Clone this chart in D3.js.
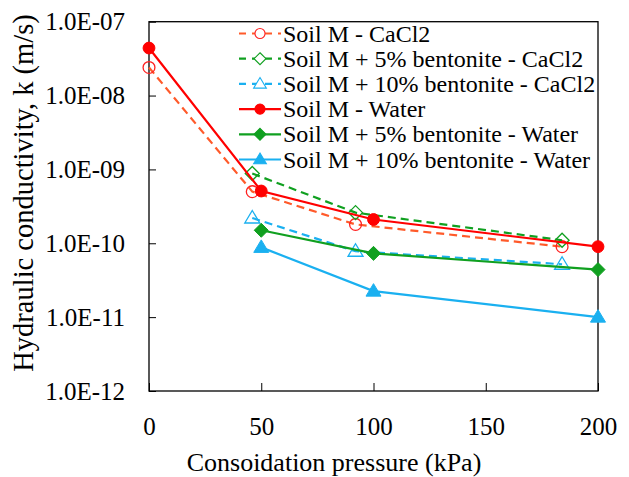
<!DOCTYPE html>
<html>
<head>
<meta charset="utf-8">
<script src="https://cdn.jsdelivr.net/npm/d3@7"></script>
<style>
  body { margin: 0; background: #fff; }
</style>
</head>
<body>
<div id="showBox"></div>
<script>
// data
const pressureCaCl2Red = [0, 46, 92, 184];
const pressureCaCl2 = [46, 92, 184];
const pressureWaterRed = [0, 50, 100, 200];
const pressureWater = [50, 100, 200];

const kSoilCaCl2 = [2.4e-8, 5.0e-10, 1.8e-10, 9.0e-11];
const kBent5CaCl2 = [8.8e-10, 2.6e-10, 1.1e-10];
const kBent10CaCl2 = [2.2e-10, 7.8e-11, 5.2e-11];
const kSoilWater = [4.4e-8, 5.1e-10, 2.1e-10, 9.0e-11];
const kBent5Water = [1.5e-10, 7.3e-11, 4.4e-11];
const kBent10Water = [8.8e-11, 2.25e-11, 1.0e-11];

const xTicks = [0, 50, 100, 150, 200];
const yTicks = [1e-12, 1e-11, 1e-10, 1e-9, 1e-8, 1e-7];

const seriesNames = [
    "Soil M - CaCl2",
    "Soil M + 5% bentonite - CaCl2",
    "Soil M + 10% bentonite - CaCl2",
    "Soil M - Water",
    "Soil M + 5% bentonite - Water",
    "Soil M + 10% bentonite - Water"
];

const series = [
    {name: seriesNames[0], x: pressureCaCl2Red, y: kSoilCaCl2, line: "#ff5a2a", mark: "#ff2020", dash: true, shape: "circle"},
    {name: seriesNames[1], x: pressureCaCl2, y: kBent5CaCl2, line: "#10a020", mark: "#10a020", dash: true, shape: "diamond"},
    {name: seriesNames[2], x: pressureCaCl2, y: kBent10CaCl2, line: "#1ab0f0", mark: "#1ab0f0", dash: true, shape: "triangle"},
    {name: seriesNames[3], x: pressureWaterRed, y: kSoilWater, line: "#ff0000", mark: "#ff0000", dash: false, shape: "circle"},
    {name: seriesNames[4], x: pressureWater, y: kBent5Water, line: "#10a020", mark: "#10a020", dash: false, shape: "diamond"},
    {name: seriesNames[5], x: pressureWater, y: kBent10Water, line: "#1ab0f0", mark: "#1ab0f0", dash: false, shape: "triangle"}
];

const W = 629, H = 477;
const mLeft = 149, mRight = 598, mTop = 21.7, mBottom = 391;
const FONT = "Liberation Serif";

const x = d3.scaleLinear().domain([0, 200]).range([mLeft, mRight]);
const y = d3.scaleLog().domain([1e-12, 1e-7]).range([mBottom, mTop]);

const svg = d3.select("#showBox").append("svg")
    .attr("width", W).attr("height", H)
    .attr("font-family", FONT);

const fmt = d => "1.0E-" + String(-Math.round(Math.log10(d))).padStart(2, "0");

// axes, ticks pointing inward
svg.append("g")
    .attr("transform", `translate(0,${mBottom})`)
    .call(d3.axisBottom(x).tickValues(xTicks).tickSizeInner(-8).tickSizeOuter(0).tickPadding(26))
    .attr("font-family", FONT).attr("font-size", 25)
    .call(g => g.select(".domain").remove())
    .call(g => g.selectAll(".tick line").attr("stroke", "#000"))
    .call(g => g.selectAll("text").attr("fill", "#000"));

svg.append("g")
    .attr("transform", `translate(${mLeft},0)`)
    .call(d3.axisLeft(y).tickValues(yTicks).tickFormat(fmt).tickSizeInner(-7).tickSizeOuter(0).tickPadding(24))
    .attr("font-family", FONT).attr("font-size", 25)
    .call(g => g.select(".domain").remove())
    .call(g => g.selectAll(".tick line").attr("stroke", "#000"))
    .call(g => g.selectAll("text").attr("fill", "#000"));

svg.append("rect")
    .attr("x", mLeft).attr("y", mTop)
    .attr("width", mRight - mLeft).attr("height", mBottom - mTop)
    .attr("fill", "none").attr("stroke", "#000").attr("stroke-width", 1.3);

svg.append("text")
    .attr("x", 334).attr("y", 471)
    .attr("text-anchor", "middle").attr("font-size", 26)
    .text("Consoidation pressure (kPa)");

svg.append("text")
    .attr("transform", `translate(33,193) rotate(-90)`)
    .attr("text-anchor", "middle").attr("font-size", 28.5)
    .text("Hydraulic conductivity, k (m/s)");

function shapePath(shape) {
    if (shape === "circle") return d3.symbol(d3.symbolCircle, 110)();
    if (shape === "diamond") return "M0,-7L7,0L0,7L-7,0Z";
    return "M0,-7.5L7.5,5L-7.5,5Z";
}

const line = d3.line().x(d => x(d[0])).y(d => y(d[1]));

const plot = svg.append("g");
series.forEach(s => {
    const pts = s.x.map((v, i) => [v, s.y[i]]);
    plot.append("path")
        .attr("d", line(pts))
        .attr("fill", "none")
        .attr("stroke", s.line)
        .attr("stroke-width", 2.2)
        .attr("stroke-dasharray", s.dash ? "8,5" : null);
    plot.selectAll(null)
        .data(pts)
        .join("path")
        .attr("transform", d => `translate(${x(d[0])},${y(d[1])})`)
        .attr("d", shapePath(s.shape))
        .attr("fill", s.dash ? "none" : s.mark)
        .attr("stroke", s.mark)
        .attr("stroke-width", s.dash ? 1.3 : 1);
});

// legend
const legend = svg.append("g");
series.forEach((s, i) => {
    const ly = 33.5 + i * 25.2;
    legend.append("line")
        .attr("x1", 239).attr("x2", 281).attr("y1", ly).attr("y2", ly)
        .attr("stroke", s.line).attr("stroke-width", 2.2)
        .attr("stroke-dasharray", s.dash ? "7,6" : null);
    legend.append("path")
        .attr("transform", `translate(260,${ly}) scale(0.85)`)
        .attr("d", shapePath(s.shape))
        .attr("fill", s.dash ? "#fff" : s.mark)
        .attr("stroke", s.mark).attr("stroke-width", 1.3);
    legend.append("text")
        .attr("x", 283).attr("y", ly + 8)
        .attr("font-size", 24)
        .text(s.name);
});
</script>
</body>
</html>
